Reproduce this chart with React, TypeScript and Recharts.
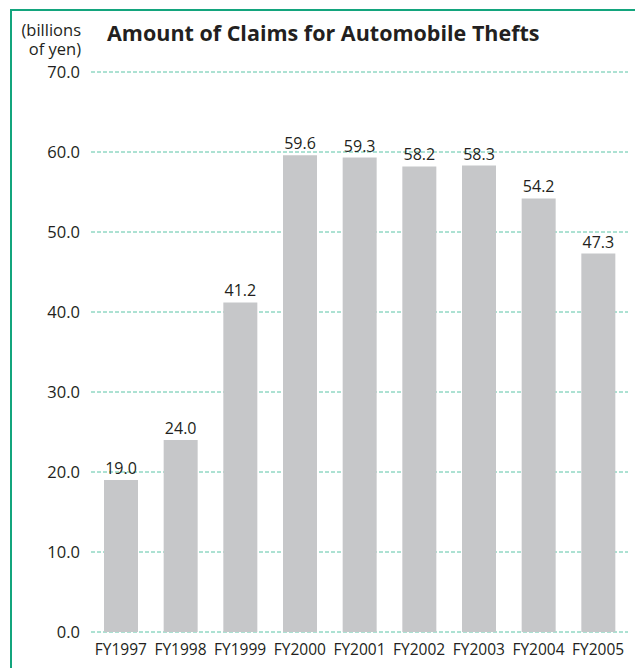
import React from "react";
import { BarChart, Bar, XAxis, YAxis, CartesianGrid, LabelList } from "recharts";

// fiscal years and claim amounts (billions of yen)
const years = ["FY1997", "FY1998", "FY1999", "FY2000", "FY2001", "FY2002", "FY2003", "FY2004", "FY2005"];
const amounts = [19.0, 24.0, 41.2, 59.6, 59.3, 58.2, 58.3, 54.2, 47.3];
const yTicks = [0, 10, 20, 30, 40, 50, 60, 70];

const data = years.map((year, i) => ({ year, amount: amounts[i] }));

const FONT = "'Open Sans', 'Noto Sans', sans-serif";
const INK = "#231f20";

export default function App() {
  return (
    <div style={{ position: "fixed", left: 0, top: 0, width: 635, height: 668, background: "#fff", overflow: "hidden", fontFamily: FONT }}>
      <div style={{ position: "absolute", left: 10, top: 9, width: 640, height: 680, border: "2px solid #13a57d" }} />
      <div style={{ position: "absolute", left: 0, top: 0 }}>
        <BarChart width={635} height={668} data={data} margin={{ top: 72, right: 7, bottom: 6, left: 0 }}>
          <CartesianGrid vertical={false} stroke="#5bc4a6" strokeDasharray="4 2" />
          <XAxis
            dataKey="year"
            axisLine={false}
            tickLine={false}
            height={30}
            interval={0}
            tickMargin={6}
            tick={{ fill: INK, fontSize: 15.5, fontFamily: FONT }}
          />
          <YAxis
            domain={[0, 70]}
            ticks={yTicks}
            axisLine={false}
            tickLine={false}
            width={91}
            tickMargin={5}
            tickFormatter={(v: number) => v.toFixed(1)}
            tick={{ fill: INK, fontSize: 16.5, fontFamily: FONT }}
          />
          <Bar dataKey="amount" fill="#c6c7c9" barSize={34} isAnimationActive={false}>
            <LabelList
              dataKey="amount"
              position="top"
              offset={6}
              formatter={(v: number) => v.toFixed(1)}
              style={{ fill: INK, fontSize: 16, fontFamily: FONT }}
            />
          </Bar>
        </BarChart>
      </div>
      <svg width={635} height={668} style={{ position: "absolute", left: 0, top: 0, pointerEvents: "none" }}>
        {/* unit label, two lines in one text */}
        <text x={81} y={36} textAnchor="end" fontSize={16.5} fill={INK} fontFamily={FONT}>
          <tspan x={81}>(billions</tspan>
          <tspan x={81} dy={19}>of yen)</tspan>
        </text>
        <text x={107} y={41} fontSize={21.5} fontWeight={700} fill={INK} fontFamily={FONT}>
          Amount of Claims for Automobile Thefts
        </text>
      </svg>
    </div>
  );
}
